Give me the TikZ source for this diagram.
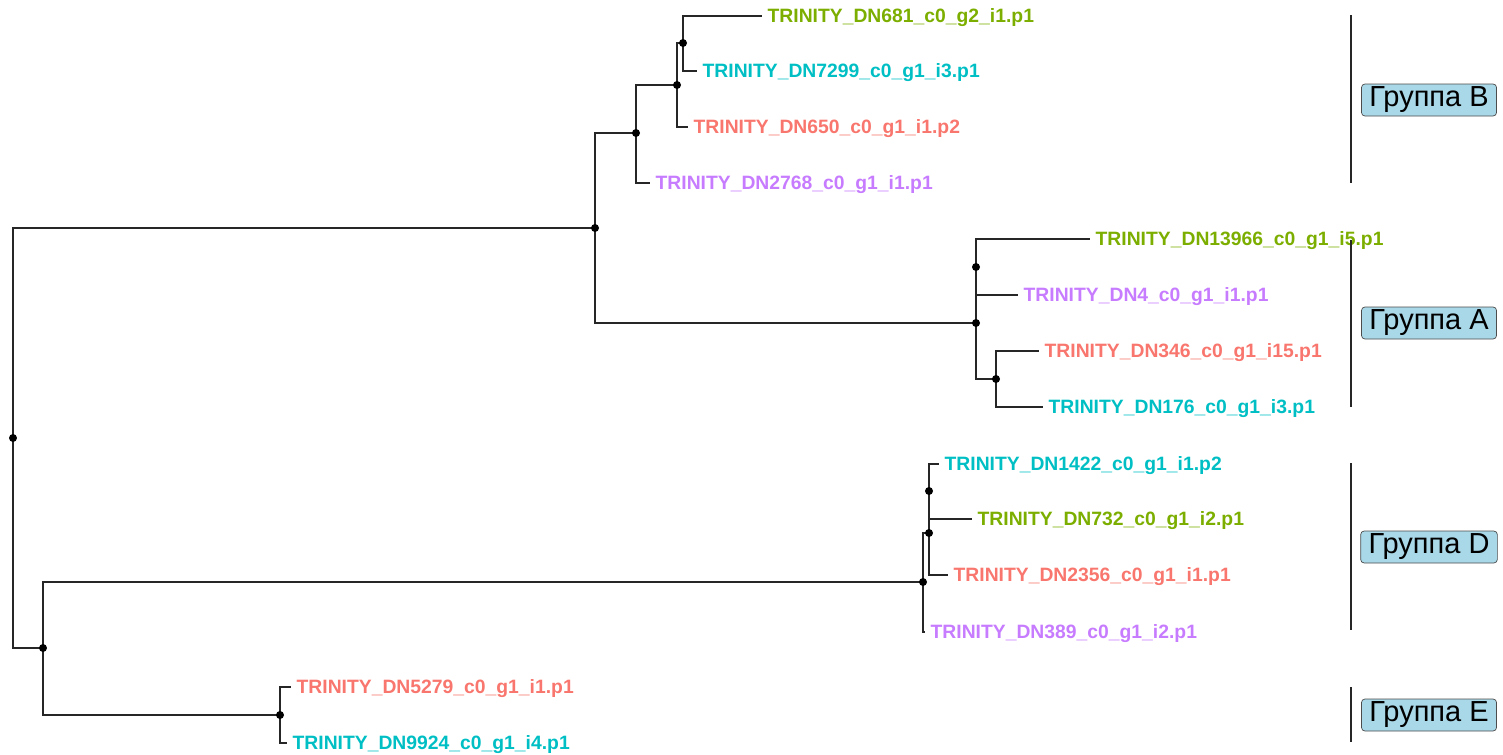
\documentclass[tikz,border=0pt]{standalone}
\usepackage{fontspec}
\setmainfont{Liberation Sans}
\definecolor{cgreen}{HTML}{7CAE00}
\definecolor{ccyan}{HTML}{00BFC4}
\definecolor{cred}{HTML}{F8766D}
\definecolor{cpurple}{HTML}{C77CFF}
\definecolor{boxblue}{HTML}{A9D8E8}
\tikzset{
  branch/.style={draw=black!85, line width=1.1pt},
  knot/.style={circle, fill=black, inner sep=0pt, minimum size=0.16cm},
  leaf/.style={anchor=west, inner xsep=3pt, inner ysep=0pt, text height=7.9pt, text depth=0pt,
    font=\fontsize{11}{13}\selectfont\bfseries},
  grp/.style={draw=black!70, fill=boxblue, rounded corners=2pt, inner xsep=4.5pt, inner ysep=0pt,
    minimum height=0.64cm, font=\fontsize{16.5}{18}\selectfont},
}
\begin{document}
\begin{tikzpicture}[x=0.02cm, y=-0.02cm]
\useasboundingbox (0,0) rectangle (1503,754);
% internal nodes
\coordinate (root) at (13,438);
\coordinate (nX) at (595,228);
\coordinate (nB1) at (636,133);
\coordinate (nB2) at (677,85);
\coordinate (nB3) at (683,43);
\coordinate (nA1) at (976,323);
\coordinate (nA2) at (976,267);
\coordinate (nA3) at (996,379);
\coordinate (nY) at (43,648);
\coordinate (nD1) at (923,582);
\coordinate (nD2) at (929,533);
\coordinate (nD3) at (929,491);
\coordinate (nE) at (280,715);
% leaves
\node[leaf, text=cgreen] (l681) at (762,16) {TRINITY\_DN681\_c0\_g2\_i1.p1};
\node[leaf, text=ccyan] (l7299) at (697,71) {TRINITY\_DN7299\_c0\_g1\_i3.p1};
\node[leaf, text=cred] (l650) at (688,127) {TRINITY\_DN650\_c0\_g1\_i1.p2};
\node[leaf, text=cpurple] (l2768) at (650,183) {TRINITY\_DN2768\_c0\_g1\_i1.p1};
\node[leaf, text=cgreen] (l13966) at (1090,239) {TRINITY\_DN13966\_c0\_g1\_i5.p1};
\node[leaf, text=cpurple] (l4) at (1018,295) {TRINITY\_DN4\_c0\_g1\_i1.p1};
\node[leaf, text=cred] (l346) at (1039,351) {TRINITY\_DN346\_c0\_g1\_i15.p1};
\node[leaf, text=ccyan] (l176) at (1043,407) {TRINITY\_DN176\_c0\_g1\_i3.p1};
\node[leaf, text=ccyan] (l1422) at (939,464) {TRINITY\_DN1422\_c0\_g1\_i1.p2};
\node[leaf, text=cgreen] (l732) at (972,519) {TRINITY\_DN732\_c0\_g1\_i2.p1};
\node[leaf, text=cred] (l2356) at (948,575) {TRINITY\_DN2356\_c0\_g1\_i1.p1};
\node[leaf, text=cpurple] (l389) at (925,632) {TRINITY\_DN389\_c0\_g1\_i2.p1};
\node[leaf, text=cred] (l5279) at (291,687) {TRINITY\_DN5279\_c0\_g1\_i1.p1};
\node[leaf, text=ccyan] (l9924) at (287,743) {TRINITY\_DN9924\_c0\_g1\_i4.p1};
% branches
\draw[branch] (root) |- (nX);
\draw[branch] (root) |- (nY);
\draw[branch] (nX) |- (nB1);
\draw[branch] (nX) |- (nA1);
\draw[branch] (nB1) |- (nB2);
\draw[branch] (nB1) |- (l2768.west);
\draw[branch] (nB2) |- (nB3);
\draw[branch] (nB2) |- (l650.west);
\draw[branch] (nB3) |- (l681.west);
\draw[branch] (nB3) |- (l7299.west);
\draw[branch] (nA1) |- (nA2);
\draw[branch] (nA1) |- (nA3);
\draw[branch] (nA2) |- (l13966.west);
\draw[branch] (nA2) |- (l4.west);
\draw[branch] (nA3) |- (l346.west);
\draw[branch] (nA3) |- (l176.west);
\draw[branch] (nY) |- (nD1);
\draw[branch] (nY) |- (nE);
\draw[branch] (nD1) |- (nD2);
\draw[branch] (nD1) |- (l389.west);
\draw[branch] (nD2) |- (nD3);
\draw[branch] (nD2) |- (l2356.west);
\draw[branch] (nD3) |- (l1422.west);
\draw[branch] (nD3) |- (l732.west);
\draw[branch] (nE) |- (l5279.west);
\draw[branch] (nE) |- (l9924.west);
\foreach \k in {root,nX,nB1,nB2,nB3,nA1,nA2,nA3,nY,nD1,nD2,nD3,nE}
  \node[knot] at (\k) {};
% groups
\draw[branch] (1351,15) -- (1351,183);
\draw[branch] (1351,240) -- (1351,407);
\draw[branch] (1351,463) -- (1351,630);
\draw[branch] (1351,687) -- (1351,742);
\node[grp] (gB) at (1429,100) {Группа B};
\node[grp] (gA) at (1429,323) {Группа A};
\node[grp] (gD) at (1429,547) {Группа D};
\node[grp] (gE) at (1429,715) {Группа E};
\end{tikzpicture}
\end{document}
